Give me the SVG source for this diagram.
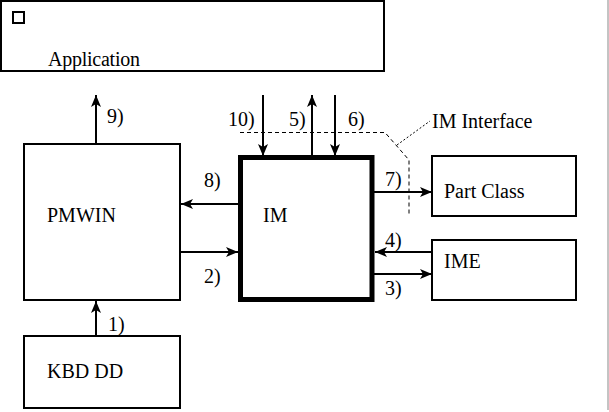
<svg xmlns="http://www.w3.org/2000/svg" width="609" height="412" viewBox="0 0 609 412">
<style>
.box{fill:#fff;stroke:#000;stroke-width:2}
.c{stroke:#000;stroke-width:2;fill:none;marker-end:url(#ah)}
</style>
<defs>
<marker id="ah" viewBox="0 0 12 10" refX="12" refY="5" markerWidth="12" markerHeight="10" markerUnits="userSpaceOnUse" orient="auto">
<path d="M0,0 L12,5 L0,10 L3,5 Z" fill="#000"/>
</marker>
</defs>
<rect width="609" height="412" fill="#fff"/>
<line x1="608" y1="0" x2="608" y2="410" stroke="#888" stroke-width="1"/>
<g font-family="Liberation Serif, DejaVu Serif, Times New Roman, serif" font-size="20" fill="#000">
<g id="application">
<rect class="box" x="1" y="1" width="383" height="70"/>
<rect x="13" y="12" width="11" height="11" fill="none" stroke="#000" stroke-width="2"/>
<text x="48" y="66" textLength="92">Application</text>
</g>
<g id="pmwin">
<rect class="box" x="24" y="144" width="156" height="156"/>
<text x="47" y="222">PMWIN</text>
</g>
<g id="kbddd">
<rect class="box" x="24" y="336" width="156" height="72"/>
<text x="47" y="378">KBD DD</text>
</g>
<g id="im">
<rect x="240.5" y="157.5" width="131.5" height="142" fill="#fff" stroke="#000" stroke-width="5"/>
<text x="263" y="222">IM</text>
</g>
<g id="partclass">
<rect class="box" x="432" y="156" width="144" height="60"/>
<text x="444" y="198">Part Class</text>
</g>
<g id="ime">
<rect class="box" x="432" y="240" width="144" height="60"/>
<text x="444" y="268">IME</text>
</g>
<g id="im-interface">
<path d="M240,132.5 H385 L409,160 V216" fill="none" stroke="#000" stroke-width="1" stroke-dasharray="4,3"/>
<line x1="397" y1="145" x2="430" y2="121" stroke="#000" stroke-width="1" stroke-dasharray="2,2"/>
<text x="432" y="128">IM Interface</text>
</g>
<g id="connectors">
<line class="c" x1="96" y1="336" x2="96" y2="301"/>
<line class="c" x1="96" y1="144" x2="96" y2="95"/>
<line class="c" x1="238" y1="204" x2="181" y2="204"/>
<line class="c" x1="180" y1="252" x2="238" y2="252"/>
<line class="c" x1="263" y1="95" x2="263" y2="156"/>
<line class="c" x1="312" y1="156" x2="312" y2="95"/>
<line class="c" x1="335" y1="95" x2="335" y2="156"/>
<line class="c" x1="374" y1="192" x2="432" y2="192"/>
<line class="c" x1="432" y1="252" x2="375" y2="252"/>
<line class="c" x1="374" y1="274" x2="432" y2="274"/>
</g>
<g id="labels">
<text x="107" y="123">9)</text>
<text x="204" y="187">8)</text>
<text x="204" y="283">2)</text>
<text x="108" y="331">1)</text>
<text x="228" y="126">10)</text>
<text x="289" y="126">5)</text>
<text x="348" y="126">6)</text>
<text x="385" y="186">7)</text>
<text x="385" y="247">4)</text>
<text x="385" y="295">3)</text>
</g>
</g>
</svg>
